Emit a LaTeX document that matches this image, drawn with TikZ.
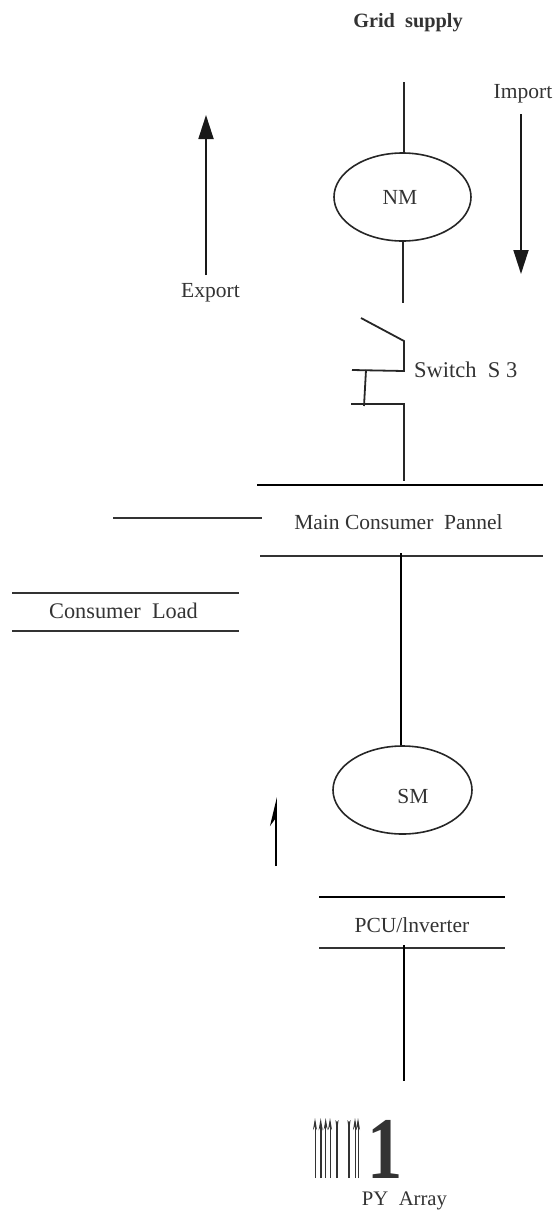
\documentclass[tikz,border=0pt]{standalone}
\usepackage{fontspec}
\setmainfont{Liberation Serif}
\usetikzlibrary{arrows.meta,shapes.geometric}
\definecolor{inkdark}{HTML}{333333}
\tikzstyle{wire} = [line width=1.8pt,black!85]
\tikzstyle{bus} = [line width=2.5pt,black!80]
\tikzstyle{feed} = [line width=2.5pt,black]
\tikzstyle{meter} = [draw=black!85,line width=1.6pt,ellipse,inner sep=0pt]
\tikzstyle{label} = [text=inkdark,font=\fontsize{21.5}{24}\selectfont,inner sep=0pt,anchor=center]
\tikzstyle{bigarrow} = [line width=1.8pt,black!90,-{Triangle[length=24pt,width=15pt]}]
\tikzstyle{halfarrow} = [line width=1.9pt,black,-{Stealth[harpoon,length=25pt,width=12pt]}]
\tikzstyle{cell} = [black!80,-{Stealth[length=12pt,width=4pt]}]

\begin{document}
\begin{tikzpicture}[x=1pt,y=-1pt]
	\useasboundingbox (0,0) rectangle (556,1213);

	% meters
	\node[meter,minimum width=137pt,minimum height=88pt] (NM) at (402.5,197) {};
	\node[meter,minimum width=139pt,minimum height=88pt] (SM) at (402.5,790) {};
	\node[label] (NMtext) at (400,197.5) {NM};
	\node[label] (SMtext) at (413,796) {SM};

	% labels
	\node[label,font=\fontsize{20.3}{24}\selectfont\bfseries] (grid) at (408,22.5) {Grid\ \ supply};
	\node[label] (import) at (523,94) {Import};
	\node[label] (export) at (210.5,292.5) {Export};
	\node[label,anchor=west,font=\fontsize{22.5}{24}\selectfont] (switch) at (414,369.5) {Switch\ \ S 3};
	\node[label] (panel) at (398.5,522) {Main Consumer\ \ Pannel};
	\node[label,font=\fontsize{22.3}{24}\selectfont] (load) at (123.5,611) {Consumer\ \ Load};
	\node[label] (pcu) at (412,925) {PCU/lnverter};
	\node[label,font=\fontsize{20.7}{24}\selectfont] (array) at (404.5,1201) {PY\ \ Array};
	\node[text=inkdark,font=\fontsize{88}{88}\selectfont\bfseries,inner sep=0pt,anchor=base,xscale=.8] (one) at (385.5,1178) {1};

	% end points
	\coordinate (gridend) at (404,82);
	\coordinate (NMout) at (403,303);
	\coordinate (swA) at (361,318);
	\coordinate (swB) at (404,341);
	\coordinate (swC) at (404,371);
	\coordinate (swD) at (352,370);
	\coordinate (swE) at (366,370);
	\coordinate (swF) at (364,406);
	\coordinate (swG) at (351,404);
	\coordinate (swH) at (404,404);
	\coordinate (swI) at (404,481);
	\coordinate (exportA) at (206,275);
	\coordinate (exportB) at (206,115);
	\coordinate (importA) at (521,114);
	\coordinate (importB) at (521,274);
	\coordinate (panelTopA) at (257,485);
	\coordinate (panelTopB) at (543,485);
	\coordinate (panelBotA) at (260,556);
	\coordinate (panelBotB) at (543,556);
	\coordinate (feedA) at (113,518);
	\coordinate (feedB) at (262,518);
	\coordinate (loadTopA) at (12,593);
	\coordinate (loadTopB) at (239,593);
	\coordinate (loadBotA) at (12,631);
	\coordinate (loadBotB) at (239,631);
	\coordinate (busdrop) at (401,553);
	\coordinate (flowA) at (276,866);
	\coordinate (flowB) at (276,797);
	\coordinate (pcuTopA) at (319,897);
	\coordinate (pcuTopB) at (505,897);
	\coordinate (pcuBotA) at (319,948);
	\coordinate (pcuBotB) at (505,948);
	\coordinate (pcuDropA) at (404,945);
	\coordinate (pcuDropB) at (404,1081);

	% grid side
	\draw[wire] (gridend) -- (NM.north -| gridend);
	\draw[wire] (NM.south -| NMout) -- (NMout);
	\draw[wire] (swA) -- (swB) -- (swC) -- (swD);
	\draw[wire] (swE) -- (swF);
	\draw[wire] (swG) -- (swH) -- (swI);
	\draw[bigarrow] (exportA) -- (exportB);
	\draw[bigarrow] (importA) -- (importB);

	% panels
	\draw[feed] (panelTopA) -- (panelTopB);
	\draw[bus] (panelBotA) -- (panelBotB);
	\draw[bus] (feedA) -- (feedB);
	\draw[bus] (loadTopA) -- (loadTopB);
	\draw[bus] (loadBotA) -- (loadBotB);
	\draw[feed] (pcuTopA) -- (pcuTopB);
	\draw[bus] (pcuBotA) -- (pcuBotB);

	% solar side
	\draw[feed] (busdrop) -- (SM.north -| busdrop);
	\draw[halfarrow] (flowA) -- (flowB);
	\draw[feed] (pcuDropA) -- (pcuDropB);

	% array cells
	\foreach \cx/\cw in {315/1,320.7/1.6,325.7/1,330/.9,337/2.2,349/2.2,355/1,358/.8}{
		\draw[cell,line width=\cw pt] (\cx,1178) -- (\cx,1118);
	}
\end{tikzpicture}
\end{document}
